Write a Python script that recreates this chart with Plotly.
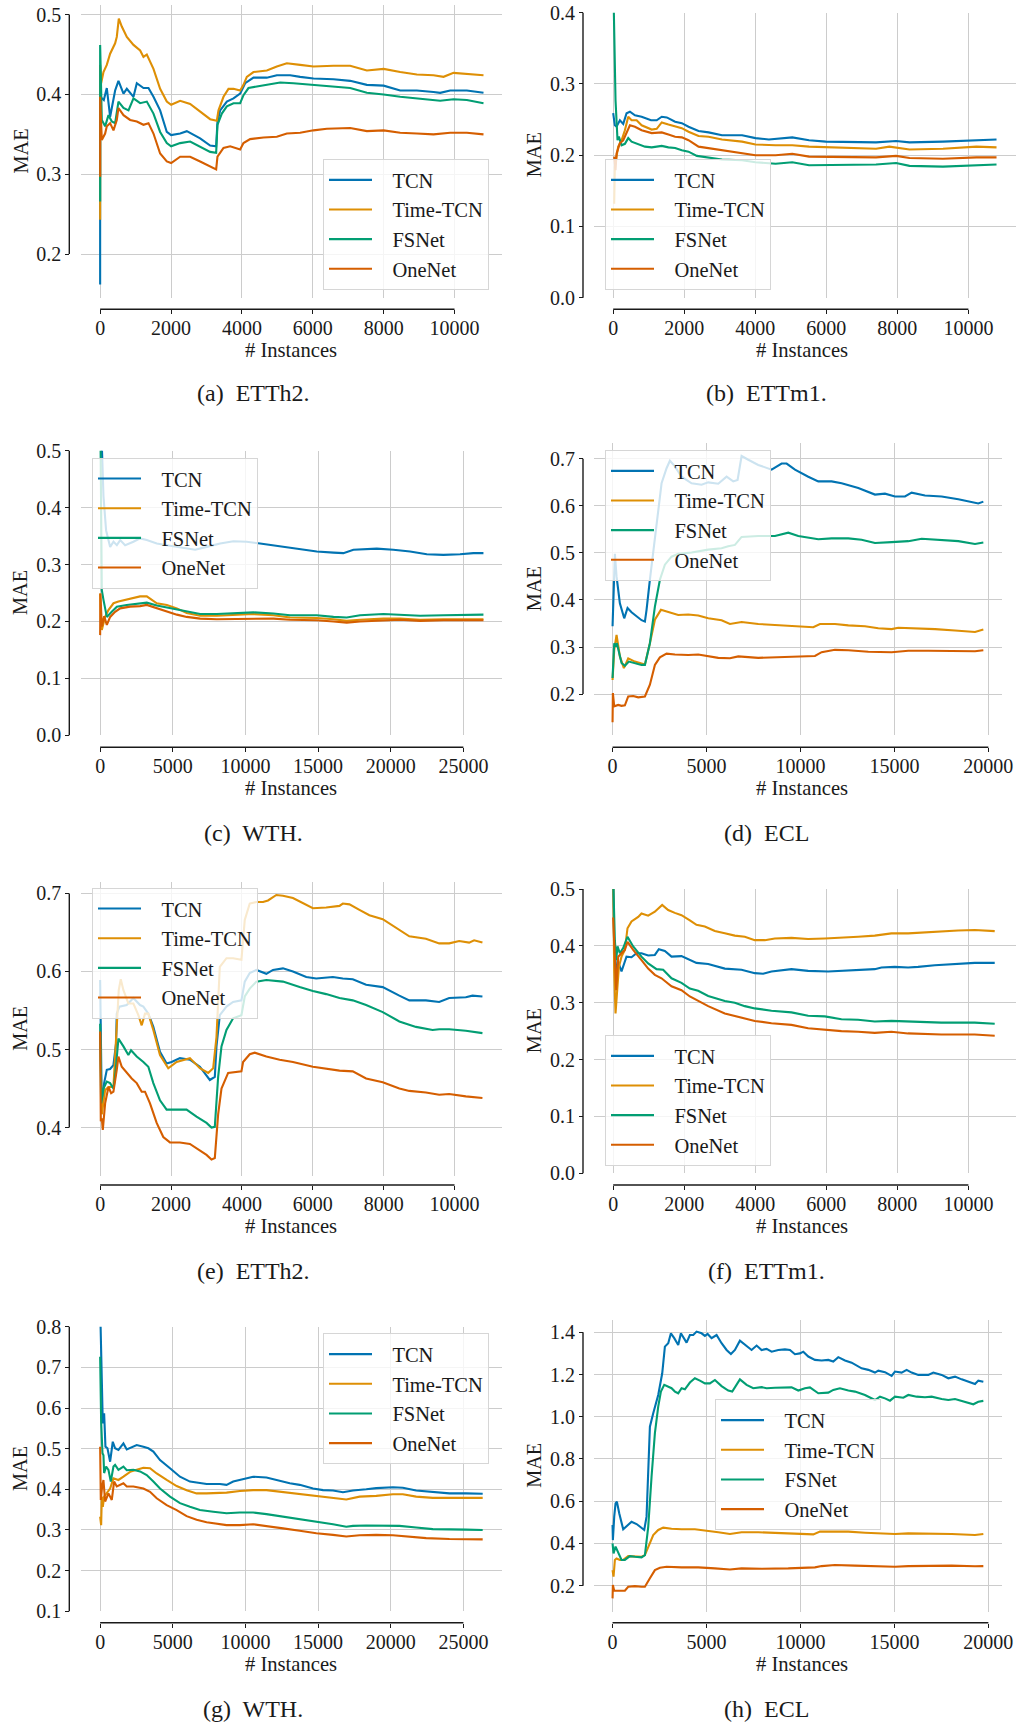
import plotly.graph_objects as go

W, H = 1018, 1722
FONT = "Liberation Serif"
TEXT = "#1a1a1a"
GRID = "#cccccc"

MODELS = ["TCN", "Time-TCN", "FSNet", "OneNet"]
COLORS = {"TCN": "#0173b2", "Time-TCN": "#de8f05", "FSNet": "#029e73", "OneNet": "#d55e00"}

# ---------------- (a) ETTh2 ----------------
A_TCN_X = [0, 0, 103, 188, 282, 423, 517, 659, 753, 941, 1035, 1223, 1364, 1505, 1693, 1881, 2004, 2258, 2446, 2634, 2822, 3104, 3274, 3311, 3387, 3575, 3763, 3951, 4092, 4327, 4704, 4986, 5362, 5644, 6021, 6585, 7056, 7526, 8000, 8467, 8937, 9407, 9595, 9878, 10348, 10818]
A_TCN_Y = [0.162, 0.397, 0.393, 0.408, 0.372, 0.405, 0.417, 0.401, 0.407, 0.397, 0.414, 0.408, 0.408, 0.397, 0.380, 0.353, 0.349, 0.351, 0.354, 0.349, 0.345, 0.336, 0.335, 0.366, 0.380, 0.391, 0.395, 0.401, 0.414, 0.421, 0.421, 0.424, 0.424, 0.422, 0.420, 0.419, 0.417, 0.412, 0.411, 0.405, 0.405, 0.403, 0.402, 0.405, 0.405, 0.402]
A_TIME_X = [0, 0, 28, 94, 188, 282, 423, 470, 527, 611, 753, 941, 1129, 1223, 1317, 1505, 1693, 1881, 2004, 2258, 2540, 2822, 3104, 3293, 3340, 3481, 3622, 3763, 3951, 4045, 4139, 4327, 4704, 4986, 5268, 5644, 6021, 6585, 7056, 7526, 8000, 8467, 8937, 9407, 9690, 9972, 10348, 10818]
A_TIME_Y = [0.243, 0.437, 0.414, 0.428, 0.437, 0.451, 0.464, 0.472, 0.495, 0.485, 0.472, 0.462, 0.455, 0.447, 0.450, 0.432, 0.407, 0.391, 0.387, 0.392, 0.388, 0.378, 0.369, 0.367, 0.380, 0.397, 0.407, 0.407, 0.405, 0.412, 0.422, 0.428, 0.430, 0.435, 0.439, 0.437, 0.435, 0.436, 0.436, 0.430, 0.432, 0.428, 0.425, 0.424, 0.422, 0.427, 0.426, 0.424]
A_FS_X = [0, 0, 47, 141, 235, 329, 423, 517, 659, 800, 941, 1129, 1317, 1505, 1693, 1881, 2004, 2258, 2540, 2822, 3104, 3274, 3311, 3434, 3575, 3763, 3951, 4045, 4186, 4421, 4704, 5080, 5456, 6021, 6585, 7056, 7526, 8000, 8467, 8937, 9407, 9595, 9972, 10348, 10818]
A_FS_Y = [0.266, 0.462, 0.368, 0.360, 0.374, 0.366, 0.364, 0.391, 0.383, 0.380, 0.395, 0.389, 0.391, 0.376, 0.353, 0.339, 0.335, 0.339, 0.341, 0.335, 0.328, 0.327, 0.362, 0.376, 0.385, 0.389, 0.389, 0.399, 0.408, 0.410, 0.412, 0.415, 0.414, 0.412, 0.410, 0.408, 0.402, 0.400, 0.397, 0.395, 0.393, 0.392, 0.394, 0.393, 0.389]
A_ONE_X = [0, 0, 47, 141, 188, 282, 376, 470, 517, 659, 847, 1035, 1223, 1364, 1505, 1693, 1881, 2004, 2258, 2540, 2822, 3104, 3274, 3311, 3481, 3669, 3951, 4045, 4233, 4610, 4986, 5268, 5644, 6021, 6397, 7056, 7526, 8000, 8467, 8937, 9407, 9878, 10348, 10818]
A_ONE_Y = [0.297, 0.397, 0.343, 0.351, 0.360, 0.364, 0.355, 0.368, 0.383, 0.374, 0.368, 0.366, 0.362, 0.364, 0.351, 0.326, 0.316, 0.314, 0.322, 0.322, 0.316, 0.310, 0.306, 0.322, 0.333, 0.335, 0.331, 0.339, 0.344, 0.346, 0.347, 0.351, 0.352, 0.355, 0.357, 0.358, 0.354, 0.355, 0.352, 0.351, 0.350, 0.352, 0.352, 0.350]

# ---------------- (b) ETTm1 ----------------
B_TCN_X = [0, 47, 94, 189, 283, 377, 471, 613, 801, 1065, 1225, 1367, 1508, 1743, 1932, 2121, 2403, 2686, 3063, 3629, 4006, 4383, 5042, 5514, 5985, 6456, 7399, 7965, 8342, 9284, 10226, 10792]
B_TCN_Y = [0.259, 0.242, 0.240, 0.249, 0.244, 0.259, 0.261, 0.256, 0.254, 0.249, 0.249, 0.254, 0.253, 0.247, 0.245, 0.240, 0.234, 0.232, 0.228, 0.228, 0.224, 0.222, 0.225, 0.221, 0.219, 0.219, 0.218, 0.220, 0.218, 0.219, 0.221, 0.222]
B_TIME_X = [28, 47, 141, 236, 330, 424, 518, 660, 801, 1084, 1225, 1367, 1555, 1743, 1932, 2121, 2403, 2686, 3063, 3629, 4006, 4572, 5042, 5514, 6456, 7399, 7776, 8342, 9284, 10226, 10792]
B_TIME_Y = [0.132, 0.184, 0.212, 0.221, 0.235, 0.254, 0.249, 0.249, 0.242, 0.236, 0.237, 0.246, 0.243, 0.240, 0.238, 0.233, 0.227, 0.226, 0.222, 0.219, 0.215, 0.214, 0.214, 0.212, 0.210, 0.209, 0.212, 0.208, 0.209, 0.212, 0.211]
B_FS_X = [0, 19, 47, 66, 94, 122, 160, 236, 330, 424, 518, 707, 895, 1084, 1367, 1555, 1743, 1932, 2121, 2356, 2686, 3063, 3629, 4006, 4572, 5042, 5514, 6456, 7399, 7965, 8342, 9284, 10226, 10792]
B_FS_Y = [0.45, 0.400, 0.305, 0.277, 0.249, 0.221, 0.226, 0.214, 0.216, 0.224, 0.219, 0.216, 0.212, 0.211, 0.213, 0.211, 0.210, 0.207, 0.205, 0.199, 0.197, 0.194, 0.193, 0.190, 0.188, 0.190, 0.186, 0.187, 0.187, 0.189, 0.185, 0.184, 0.186, 0.187]
B_ONE_X = [28, 66, 94, 189, 283, 377, 471, 613, 801, 1084, 1367, 1555, 1743, 1932, 2121, 2403, 2686, 3063, 3440, 4006, 4572, 5042, 5514, 6456, 7399, 7965, 8342, 9284, 10226, 10792]
B_ONE_Y = [0.198, 0.179, 0.202, 0.217, 0.221, 0.231, 0.242, 0.240, 0.235, 0.231, 0.232, 0.229, 0.226, 0.225, 0.221, 0.212, 0.210, 0.207, 0.204, 0.200, 0.200, 0.202, 0.198, 0.198, 0.197, 0.199, 0.196, 0.195, 0.197, 0.197]

# ---------------- (c) WTH ----------------
C_TCN_X = [0, 110, 230, 410, 570, 690, 920, 1150, 1380, 1720, 2290, 2750, 3210, 3900, 4590, 5280, 5960, 6540, 7340, 8260, 9170, 10090, 11010, 11930, 12840, 13760, 14910, 16060, 16740, 17430, 18350, 19040, 20180, 21330, 22480, 23620, 24770, 25690, 26380]
C_TCN_Y = [0.60, 0.52, 0.42, 0.360, 0.343, 0.331, 0.340, 0.334, 0.343, 0.334, 0.340, 0.346, 0.343, 0.337, 0.334, 0.331, 0.328, 0.326, 0.331, 0.337, 0.341, 0.340, 0.337, 0.334, 0.330, 0.327, 0.323, 0.321, 0.320, 0.326, 0.327, 0.328, 0.326, 0.323, 0.318, 0.317, 0.318, 0.320, 0.320]
C_TIME_X = [0, 46, 115, 340, 570, 920, 1260, 1830, 2750, 3210, 3900, 4590, 5280, 5960, 6880, 8030, 9170, 10550, 11930, 13070, 14910, 16060, 16970, 17890, 19500, 20640, 22020, 23620, 26380]
C_TIME_Y = [0.249, 0.200, 0.185, 0.208, 0.220, 0.232, 0.235, 0.238, 0.244, 0.244, 0.232, 0.229, 0.223, 0.215, 0.210, 0.210, 0.211, 0.213, 0.211, 0.207, 0.206, 0.204, 0.201, 0.203, 0.205, 0.205, 0.203, 0.204, 0.204]
C_FS_X = [0, 70, 115, 230, 460, 800, 1150, 1830, 2750, 3210, 3900, 4820, 5960, 6880, 8030, 9170, 10550, 11930, 13070, 14910, 16060, 16970, 17890, 19500, 20640, 22020, 23620, 26380]
C_FS_Y = [0.60, 0.302, 0.255, 0.238, 0.208, 0.217, 0.226, 0.229, 0.232, 0.233, 0.228, 0.223, 0.217, 0.213, 0.213, 0.214, 0.216, 0.214, 0.211, 0.211, 0.208, 0.207, 0.211, 0.213, 0.212, 0.210, 0.211, 0.212]
C_ONE_X = [0, 20, 115, 280, 460, 690, 1030, 1380, 2060, 2750, 3210, 3900, 4590, 5280, 5960, 6880, 8030, 9170, 10550, 11930, 13070, 14910, 16060, 16970, 17890, 19500, 20640, 22020, 23620, 26380]
C_ONE_Y = [0.176, 0.249, 0.191, 0.209, 0.194, 0.208, 0.217, 0.223, 0.226, 0.227, 0.229, 0.223, 0.217, 0.212, 0.208, 0.205, 0.204, 0.204, 0.205, 0.205, 0.203, 0.202, 0.200, 0.198, 0.200, 0.202, 0.203, 0.201, 0.202, 0.202]

# ---------------- (d) ECL ----------------
D_TCN_X = [0, 35, 89, 124, 213, 390, 621, 798, 1011, 1278, 1544, 1722, 1810, 1988, 2254, 2431, 2609, 2875, 3052, 3319, 3674, 4206, 4738, 5093, 5626, 6069, 6424, 6655, 6868, 7223, 7755, 8465, 8998, 9264, 9708, 10417, 10950, 11659, 12192, 13079, 13966, 14498, 15031, 15563, 15918, 16628, 17515, 18403, 19290, 19467, 19734]
D_TCN_Y = [0.344, 0.393, 0.492, 0.498, 0.450, 0.393, 0.361, 0.383, 0.374, 0.365, 0.357, 0.354, 0.379, 0.443, 0.535, 0.592, 0.648, 0.680, 0.696, 0.684, 0.662, 0.648, 0.645, 0.650, 0.647, 0.662, 0.652, 0.655, 0.706, 0.698, 0.687, 0.677, 0.690, 0.690, 0.677, 0.662, 0.652, 0.652, 0.648, 0.638, 0.624, 0.626, 0.620, 0.620, 0.628, 0.622, 0.620, 0.614, 0.606, 0.605, 0.609]
D_TIME_X = [0, 89, 213, 390, 603, 834, 1189, 1544, 1722, 1988, 2254, 2573, 2964, 3496, 4029, 4561, 5093, 5803, 6247, 6868, 7755, 8643, 9530, 10417, 10684, 11039, 11837, 12547, 13434, 14143, 14853, 15208, 16096, 17170, 18226, 19290, 19734]
D_TIME_Y = [0.230, 0.294, 0.326, 0.280, 0.255, 0.276, 0.269, 0.264, 0.263, 0.308, 0.358, 0.379, 0.374, 0.368, 0.369, 0.367, 0.361, 0.357, 0.349, 0.353, 0.349, 0.347, 0.346, 0.344, 0.342, 0.349, 0.349, 0.346, 0.344, 0.340, 0.338, 0.341, 0.340, 0.338, 0.335, 0.332, 0.337]
D_FS_X = [0, 89, 160, 230, 479, 656, 869, 1189, 1544, 1722, 1988, 2254, 2520, 2786, 3141, 3496, 4206, 5093, 5803, 6158, 6513, 6868, 7755, 8643, 9353, 9885, 10417, 10950, 11659, 12547, 13257, 13966, 14853, 15741, 16450, 17515, 18403, 19290, 19734]
D_FS_Y = [0.234, 0.308, 0.301, 0.308, 0.266, 0.260, 0.269, 0.266, 0.262, 0.262, 0.308, 0.386, 0.443, 0.475, 0.492, 0.498, 0.501, 0.507, 0.510, 0.514, 0.517, 0.534, 0.536, 0.536, 0.543, 0.536, 0.533, 0.529, 0.531, 0.531, 0.528, 0.521, 0.523, 0.525, 0.530, 0.528, 0.525, 0.519, 0.522]
D_ONE_X = [0, 18, 89, 302, 479, 656, 834, 1100, 1367, 1722, 1988, 2254, 2520, 2875, 3319, 4029, 4561, 5093, 5626, 6247, 6690, 7755, 8643, 9530, 10417, 10772, 11127, 11837, 12547, 13612, 14853, 15741, 16806, 18048, 19290, 19734]
D_ONE_Y = [0.140, 0.202, 0.174, 0.177, 0.175, 0.176, 0.195, 0.196, 0.193, 0.195, 0.220, 0.262, 0.278, 0.286, 0.284, 0.283, 0.284, 0.280, 0.277, 0.276, 0.280, 0.277, 0.278, 0.279, 0.281, 0.281, 0.289, 0.294, 0.293, 0.290, 0.289, 0.292, 0.292, 0.292, 0.291, 0.293]

# ---------------- (e) ETTh2 ----------------
E_TCN_X = [0, 47, 113, 188, 281, 375, 450, 469, 544, 750, 938, 1126, 1220, 1360, 1501, 1689, 1876, 2017, 2251, 2533, 2814, 3002, 3096, 3236, 3283, 3377, 3565, 3752, 3987, 4081, 4222, 4409, 4690, 4878, 5159, 5441, 5816, 6097, 6567, 6848, 7129, 7505, 7974, 8443, 8724, 9193, 9568, 9850, 10319, 10507, 10788]
E_TCN_Y = [0.589, 0.425, 0.457, 0.474, 0.475, 0.480, 0.508, 0.546, 0.555, 0.557, 0.566, 0.557, 0.555, 0.546, 0.529, 0.497, 0.482, 0.484, 0.489, 0.487, 0.478, 0.467, 0.461, 0.465, 0.504, 0.544, 0.555, 0.561, 0.563, 0.587, 0.598, 0.602, 0.597, 0.602, 0.604, 0.600, 0.593, 0.591, 0.593, 0.591, 0.590, 0.583, 0.580, 0.569, 0.563, 0.563, 0.561, 0.566, 0.567, 0.569, 0.568]
E_TIME_X = [0, 47, 141, 235, 375, 469, 525, 582, 657, 797, 938, 1079, 1173, 1266, 1360, 1501, 1689, 1923, 2158, 2533, 2814, 3049, 3189, 3283, 3377, 3565, 3752, 3987, 4081, 4222, 4409, 4597, 4737, 4972, 5159, 5441, 5722, 6004, 6379, 6754, 6848, 7036, 7317, 7598, 7974, 8443, 8724, 9193, 9568, 9850, 10131, 10413, 10553, 10788]
E_TIME_Y = [0.520, 0.417, 0.448, 0.452, 0.452, 0.525, 0.576, 0.590, 0.576, 0.559, 0.559, 0.544, 0.531, 0.546, 0.546, 0.525, 0.493, 0.476, 0.484, 0.489, 0.476, 0.470, 0.476, 0.516, 0.606, 0.617, 0.617, 0.615, 0.666, 0.687, 0.689, 0.689, 0.691, 0.698, 0.697, 0.694, 0.687, 0.681, 0.682, 0.684, 0.687, 0.686, 0.679, 0.672, 0.667, 0.653, 0.645, 0.642, 0.636, 0.636, 0.639, 0.637, 0.640, 0.637]
E_FS_X = [0, 28, 94, 188, 281, 375, 422, 516, 657, 797, 872, 1032, 1220, 1360, 1501, 1689, 1876, 2158, 2439, 2720, 3002, 3142, 3236, 3330, 3424, 3565, 3752, 3987, 4081, 4222, 4409, 4690, 5159, 5629, 6004, 6379, 6754, 7129, 7505, 7974, 8443, 8912, 9381, 9568, 9850, 10319, 10788]
E_FS_Y = [0.533, 0.431, 0.450, 0.459, 0.457, 0.450, 0.465, 0.514, 0.504, 0.493, 0.499, 0.491, 0.484, 0.478, 0.457, 0.435, 0.423, 0.423, 0.423, 0.414, 0.406, 0.400, 0.401, 0.465, 0.504, 0.525, 0.540, 0.544, 0.568, 0.578, 0.587, 0.589, 0.587, 0.580, 0.575, 0.571, 0.566, 0.563, 0.557, 0.548, 0.536, 0.529, 0.525, 0.526, 0.526, 0.524, 0.521]
E_ONE_X = [0, 19, 47, 75, 141, 235, 310, 375, 469, 516, 610, 750, 891, 1032, 1173, 1266, 1407, 1595, 1782, 1970, 2251, 2533, 2814, 3002, 3142, 3236, 3330, 3424, 3612, 3752, 3987, 4034, 4222, 4362, 4690, 5066, 5441, 6004, 6473, 6754, 7129, 7505, 7974, 8443, 8724, 9193, 9568, 9850, 10319, 10788]
E_ONE_Y = [0.523, 0.408, 0.412, 0.397, 0.431, 0.452, 0.444, 0.446, 0.474, 0.491, 0.478, 0.470, 0.463, 0.457, 0.446, 0.446, 0.431, 0.406, 0.388, 0.381, 0.381, 0.379, 0.371, 0.365, 0.359, 0.361, 0.417, 0.450, 0.470, 0.471, 0.472, 0.484, 0.494, 0.496, 0.491, 0.487, 0.484, 0.478, 0.475, 0.473, 0.472, 0.463, 0.458, 0.450, 0.447, 0.445, 0.442, 0.443, 0.440, 0.438]

# ---------------- (f) ETTm1 ----------------
F_TCN_X = [0, 28, 66, 122, 188, 235, 310, 375, 516, 657, 797, 985, 1173, 1285, 1454, 1642, 1923, 2158, 2345, 2674, 3142, 3612, 3987, 4221, 4456, 5019, 5488, 6051, 6426, 6895, 7364, 7552, 7927, 8302, 8584, 9053, 9522, 10178, 10741]
F_TCN_Y = [0.520, 0.387, 0.340, 0.375, 0.363, 0.355, 0.369, 0.381, 0.380, 0.387, 0.387, 0.383, 0.384, 0.394, 0.391, 0.381, 0.382, 0.375, 0.370, 0.368, 0.360, 0.358, 0.352, 0.351, 0.355, 0.359, 0.356, 0.355, 0.356, 0.358, 0.359, 0.362, 0.363, 0.362, 0.363, 0.366, 0.368, 0.370, 0.370]
F_TIME_X = [0, 28, 66, 103, 160, 235, 328, 403, 516, 704, 797, 985, 1173, 1379, 1548, 1735, 1923, 2158, 2345, 2580, 2861, 3142, 3424, 3705, 3987, 4268, 4550, 5019, 5488, 5957, 6426, 6895, 7364, 7833, 8302, 8771, 9240, 9709, 10178, 10741]
F_TIME_Y = [0.520, 0.358, 0.281, 0.322, 0.363, 0.381, 0.393, 0.431, 0.443, 0.451, 0.457, 0.453, 0.460, 0.472, 0.463, 0.458, 0.454, 0.445, 0.437, 0.434, 0.426, 0.422, 0.418, 0.416, 0.410, 0.410, 0.413, 0.414, 0.412, 0.413, 0.414, 0.416, 0.418, 0.422, 0.422, 0.424, 0.425, 0.427, 0.428, 0.426]
F_FS_X = [0, 47, 85, 122, 188, 281, 403, 563, 797, 985, 1220, 1407, 1642, 1923, 2158, 2392, 2674, 3142, 3424, 3705, 3987, 4456, 5019, 5488, 5957, 6426, 6895, 7364, 7833, 8302, 8771, 9240, 10178, 10741]
F_FS_Y = [0.520, 0.410, 0.375, 0.399, 0.387, 0.396, 0.416, 0.399, 0.381, 0.369, 0.359, 0.358, 0.343, 0.335, 0.325, 0.321, 0.312, 0.303, 0.300, 0.294, 0.290, 0.286, 0.283, 0.277, 0.276, 0.271, 0.270, 0.267, 0.268, 0.267, 0.266, 0.265, 0.265, 0.263]
F_ONE_X = [0, 47, 85, 141, 235, 328, 403, 563, 797, 985, 1173, 1360, 1642, 1923, 2158, 2392, 2674, 3142, 3612, 3987, 4456, 5019, 5488, 5957, 6426, 6895, 7364, 7833, 8302, 9240, 10178, 10741]
F_ONE_Y = [0.450, 0.363, 0.322, 0.381, 0.387, 0.393, 0.407, 0.393, 0.375, 0.360, 0.349, 0.343, 0.329, 0.322, 0.311, 0.303, 0.294, 0.281, 0.274, 0.268, 0.264, 0.261, 0.255, 0.252, 0.250, 0.249, 0.247, 0.249, 0.246, 0.244, 0.244, 0.242]

# ---------------- (g) WTH ----------------
G_TCN_X = [0, 115, 183, 275, 366, 504, 687, 870, 1030, 1259, 1603, 1832, 2289, 2518, 2976, 3320, 3663, 4121, 4808, 5495, 6181, 6639, 7326, 8242, 8700, 9158, 9844, 10531, 11447, 12134, 13050, 13736, 14652, 15339, 16026, 16712, 17399, 18315, 19002, 20147, 20833, 21749, 22894, 24038, 25183, 26328]
G_TCN_Y = [0.850, 0.620, 0.562, 0.587, 0.505, 0.501, 0.468, 0.517, 0.501, 0.497, 0.513, 0.498, 0.505, 0.509, 0.505, 0.501, 0.493, 0.472, 0.452, 0.431, 0.419, 0.416, 0.413, 0.413, 0.411, 0.419, 0.425, 0.431, 0.429, 0.423, 0.415, 0.411, 0.402, 0.398, 0.397, 0.393, 0.397, 0.400, 0.403, 0.405, 0.404, 0.397, 0.393, 0.390, 0.390, 0.389]
G_TIME_X = [0, 69, 115, 183, 275, 458, 687, 916, 1259, 1603, 2060, 2518, 2976, 3434, 3892, 4579, 5266, 5952, 6639, 7326, 8700, 9615, 10531, 11447, 12363, 13278, 14194, 15110, 16026, 16941, 17857, 19002, 20147, 20833, 21749, 22894, 25183, 26328]
G_TIME_Y = [0.333, 0.312, 0.382, 0.357, 0.382, 0.390, 0.402, 0.427, 0.423, 0.431, 0.443, 0.448, 0.453, 0.452, 0.439, 0.423, 0.408, 0.398, 0.390, 0.390, 0.392, 0.396, 0.398, 0.398, 0.394, 0.390, 0.386, 0.382, 0.378, 0.375, 0.382, 0.384, 0.388, 0.388, 0.382, 0.379, 0.379, 0.379]
G_FS_X = [0, 69, 160, 229, 275, 412, 572, 733, 916, 1030, 1259, 1603, 1832, 2289, 2747, 3205, 3663, 4121, 4808, 5495, 6181, 6868, 7784, 8700, 9615, 10531, 11447, 12591, 13736, 14881, 16026, 16941, 17399, 18315, 19460, 20604, 21749, 22894, 25183, 26328]
G_FS_Y = [0.726, 0.566, 0.489, 0.484, 0.440, 0.456, 0.448, 0.419, 0.456, 0.460, 0.448, 0.456, 0.447, 0.448, 0.444, 0.435, 0.419, 0.402, 0.382, 0.366, 0.357, 0.349, 0.345, 0.341, 0.343, 0.343, 0.339, 0.333, 0.326, 0.320, 0.314, 0.308, 0.310, 0.311, 0.311, 0.310, 0.306, 0.302, 0.301, 0.300]
G_ONE_X = [0, 46, 137, 229, 343, 572, 801, 962, 1145, 1603, 1832, 2289, 2976, 3434, 3892, 4579, 5266, 5952, 6639, 7326, 8700, 9615, 10531, 11447, 12591, 13736, 14881, 16026, 16941, 17857, 19002, 20147, 21291, 22436, 24038, 26328]
G_ONE_Y = [0.505, 0.374, 0.407, 0.423, 0.370, 0.390, 0.374, 0.419, 0.407, 0.415, 0.407, 0.407, 0.402, 0.394, 0.378, 0.361, 0.349, 0.334, 0.325, 0.319, 0.312, 0.312, 0.314, 0.310, 0.304, 0.298, 0.292, 0.288, 0.284, 0.287, 0.288, 0.287, 0.284, 0.280, 0.278, 0.277]

# ---------------- (h) ECL ----------------
H_TCN_X = [0, 18, 89, 160, 231, 355, 568, 834, 1011, 1278, 1544, 1686, 1810, 1988, 2165, 2431, 2644, 2786, 2964, 3106, 3283, 3496, 3638, 3762, 3940, 4117, 4295, 4472, 4738, 4916, 5058, 5271, 5537, 5803, 6069, 6300, 6513, 6779, 7046, 7400, 7667, 7933, 8199, 8465, 8820, 9175, 9441, 9707, 9973, 10151, 10417, 10772, 11127, 11482, 11748, 12014, 12369, 12724, 13256, 13611, 13966, 14144, 14499, 14853, 15031, 15386, 15652, 15918, 16273, 16806, 17072, 17516, 17870, 18226, 18580, 19113, 19290, 19468, 19734]
H_TCN_Y = [0.487, 0.416, 0.527, 0.590, 0.598, 0.543, 0.467, 0.487, 0.503, 0.492, 0.472, 0.464, 0.527, 0.953, 1.016, 1.103, 1.206, 1.332, 1.348, 1.395, 1.372, 1.340, 1.395, 1.379, 1.351, 1.387, 1.387, 1.403, 1.395, 1.383, 1.392, 1.372, 1.387, 1.348, 1.316, 1.297, 1.316, 1.360, 1.340, 1.316, 1.337, 1.316, 1.321, 1.308, 1.316, 1.319, 1.316, 1.296, 1.300, 1.308, 1.285, 1.269, 1.266, 1.269, 1.261, 1.282, 1.266, 1.256, 1.229, 1.222, 1.209, 1.218, 1.211, 1.193, 1.214, 1.209, 1.222, 1.209, 1.198, 1.198, 1.209, 1.198, 1.182, 1.190, 1.177, 1.162, 1.155, 1.171, 1.166]
H_TIME_X = [0, 53, 124, 213, 390, 568, 834, 1189, 1544, 1722, 1899, 2165, 2431, 2697, 3141, 3674, 4383, 5093, 5626, 6247, 6868, 7755, 8643, 9707, 10684, 11039, 11837, 12547, 13434, 14321, 15031, 15741, 16806, 18048, 19290, 19734]
H_TIME_Y = [0.274, 0.243, 0.322, 0.329, 0.322, 0.322, 0.340, 0.337, 0.337, 0.345, 0.385, 0.440, 0.464, 0.475, 0.470, 0.467, 0.467, 0.460, 0.453, 0.445, 0.453, 0.453, 0.451, 0.448, 0.443, 0.456, 0.457, 0.456, 0.451, 0.446, 0.445, 0.448, 0.448, 0.445, 0.440, 0.445]
H_FS_X = [0, 53, 160, 302, 479, 656, 923, 1189, 1544, 1722, 1899, 2076, 2254, 2431, 2573, 2751, 2964, 3141, 3319, 3496, 3674, 3851, 4117, 4383, 4649, 4916, 5182, 5448, 5803, 6158, 6371, 6513, 6779, 7134, 7488, 7932, 8199, 8643, 9175, 9530, 9885, 10240, 10506, 10950, 11482, 11748, 12103, 12547, 12902, 13434, 13966, 14233, 14499, 14765, 15031, 15475, 15741, 16185, 16628, 16983, 17516, 17870, 18226, 18758, 19201, 19468, 19734]
H_FS_Y = [0.400, 0.353, 0.385, 0.353, 0.322, 0.322, 0.340, 0.337, 0.334, 0.345, 0.479, 0.716, 0.922, 1.048, 1.119, 1.151, 1.143, 1.135, 1.119, 1.111, 1.135, 1.130, 1.162, 1.182, 1.171, 1.158, 1.158, 1.174, 1.145, 1.124, 1.119, 1.140, 1.177, 1.151, 1.135, 1.140, 1.135, 1.137, 1.139, 1.139, 1.124, 1.135, 1.139, 1.111, 1.114, 1.127, 1.135, 1.124, 1.119, 1.103, 1.079, 1.095, 1.087, 1.076, 1.095, 1.090, 1.103, 1.095, 1.092, 1.095, 1.084, 1.079, 1.084, 1.072, 1.059, 1.071, 1.075]
H_ONE_X = [0, 18, 89, 302, 479, 656, 834, 1189, 1544, 1722, 1988, 2254, 2520, 2875, 3674, 4561, 5448, 6247, 6868, 7933, 9353, 10417, 10772, 11127, 11837, 12902, 13966, 15031, 15741, 16806, 18048, 19290, 19734]
H_ONE_Y = [0.140, 0.203, 0.176, 0.176, 0.175, 0.176, 0.195, 0.198, 0.195, 0.195, 0.235, 0.274, 0.285, 0.290, 0.287, 0.287, 0.282, 0.277, 0.282, 0.280, 0.282, 0.285, 0.287, 0.293, 0.298, 0.295, 0.292, 0.290, 0.293, 0.295, 0.295, 0.292, 0.293]

# Tick values per panel
TICKS_X_10K = [0, 2000, 4000, 6000, 8000, 10000]
TICKS_X_25K = [0, 5000, 10000, 15000, 20000, 25000]
TICKS_X_20K = [0, 5000, 10000, 15000, 20000]

# Sub-figure labels (dataset names)
CAPTIONS = [("(a)", "ETTh2."), ("(b)", "ETTm1."), ("(c)", "WTH."), ("(d)", "ECL"),
            ("(e)", "ETTh2."), ("(f)", "ETTm1."), ("(g)", "WTH."), ("(h)", "ECL")]

# Panel geometry in pixels: plot box (left, right, top, bottom), offset spines, legend corner
PANELS = [
    dict(data=[(A_TCN_X, A_TCN_Y), (A_TIME_X, A_TIME_Y), (A_FS_X, A_FS_Y), (A_ONE_X, A_ONE_Y)],
         xr=[-540, 11340], yr=[0.145, 0.512], xt=TICKS_X_10K, yt=[0.2, 0.3, 0.4, 0.5],
         box=(81, 502, 5, 298), sx=69.3, sy=309.3, leg=(323, 159), capy=393),
    dict(data=[(B_TCN_X, B_TCN_Y), (B_TIME_X, B_TIME_Y), (B_FS_X, B_FS_Y), (B_ONE_X, B_ONE_Y)],
         xr=[-540, 11340], yr=[0.0, 0.4], xt=TICKS_X_10K, yt=[0.0, 0.1, 0.2, 0.3, 0.4],
         box=(594, 1016, 12.7, 297.7), sx=583, sy=309.3, leg=(605, 159), capy=393),
    dict(data=[(C_TCN_X, C_TCN_Y), (C_TIME_X, C_TIME_Y), (C_FS_X, C_FS_Y), (C_ONE_X, C_ONE_Y)],
         xr=[-1317, 27657], yr=[0.0, 0.5], xt=TICKS_X_25K, yt=[0.0, 0.1, 0.2, 0.3, 0.4, 0.5],
         box=(81, 502, 450.7, 735.3), sx=69.3, sy=747.3, leg=(92, 457.7), capy=833),
    dict(data=[(D_TCN_X, D_TCN_Y), (D_TIME_X, D_TIME_Y), (D_FS_X, D_FS_Y), (D_ONE_X, D_ONE_Y)],
         xr=[-987, 20727], yr=[0.113, 0.733], xt=TICKS_X_20K, yt=[0.2, 0.3, 0.4, 0.5, 0.6, 0.7],
         box=(594, 1002, 443.3, 735), sx=583, sy=747.3, leg=(605, 450), capy=833),
    dict(data=[(E_TCN_X, E_TCN_Y), (E_TIME_X, E_TIME_Y), (E_FS_X, E_FS_Y), (E_ONE_X, E_ONE_Y)],
         xr=[-540, 11340], yr=[0.338, 0.715], xt=TICKS_X_10K, yt=[0.4, 0.5, 0.6, 0.7],
         box=(81, 502, 881.7, 1176), sx=69.3, sy=1185, leg=(92, 887.7), capy=1271),
    dict(data=[(F_TCN_X, F_TCN_Y), (F_TIME_X, F_TIME_Y), (F_FS_X, F_FS_Y), (F_ONE_X, F_ONE_Y)],
         xr=[-540, 11340], yr=[0.0, 0.5], xt=TICKS_X_10K, yt=[0.0, 0.1, 0.2, 0.3, 0.4, 0.5],
         box=(594, 1016, 889, 1173.3), sx=583, sy=1185, leg=(605, 1035), capy=1271),
    dict(data=[(G_TCN_X, G_TCN_Y), (G_TIME_X, G_TIME_Y), (G_FS_X, G_FS_Y), (G_ONE_X, G_ONE_Y)],
         xr=[-1317, 27657], yr=[0.1, 0.8], xt=TICKS_X_25K, yt=[0.1, 0.2, 0.3, 0.4, 0.5, 0.6, 0.7, 0.8],
         box=(81, 502, 1326.7, 1611.3), sx=69.3, sy=1622.7, leg=(323, 1333.3), capy=1709),
    dict(data=[(H_TCN_X, H_TCN_Y), (H_TIME_X, H_TIME_Y), (H_FS_X, H_FS_Y), (H_ONE_X, H_ONE_Y)],
         xr=[-987, 20727], yr=[0.077, 1.458], xt=TICKS_X_20K, yt=[0.2, 0.4, 0.6, 0.8, 1.0, 1.2, 1.4],
         box=(594, 1002, 1320, 1611.7), sx=583, sy=1622.7, leg=(715, 1399.3), capy=1709),
]

NBSP = "\u00a0"

fig = go.Figure()
shapes, annotations = [], []
layout = dict(
    width=W, height=H, margin=dict(l=0, r=0, t=0, b=0, autoexpand=False),
    paper_bgcolor="white", plot_bgcolor="white",
    font=dict(family=FONT, size=20, color=TEXT),
    showlegend=True,
)


def px_x(v):
    return v / W


def px_y(v):
    return 1 - v / H


for i, (p, (tag, dname)) in enumerate(zip(PANELS, CAPTIONS), start=1):
    sfx = "" if i == 1 else str(i)
    xa, ya = "x" + sfx, "y" + sfx
    leg = "legend" + sfx
    L, R, T, B = p["box"]

    for name, (xs, ys) in zip(MODELS, p["data"]):
        fig.add_trace(go.Scatter(
            x=xs, y=ys, mode="lines", name=NBSP * 3 + name,
            line=dict(color=COLORS[name], width=2.1),
            xaxis=xa, yaxis=ya, legend=leg, showlegend=True,
        ))

    layout["xaxis" + sfx] = dict(
        domain=[px_x(L), px_x(R)], range=p["xr"], anchor="free", position=px_y(p["sy"]),
        tickvals=p["xt"], tickformat="d", ticks="outside", ticklen=4, tickwidth=1.3,
        tickcolor=TEXT, showline=False, zeroline=False, automargin=False,
        ticklabelstandoff=-3,
        showgrid=True, gridcolor=GRID, gridwidth=1.2,
        tickfont=dict(family=FONT, size=20, color=TEXT),
    )
    layout["yaxis" + sfx] = dict(
        domain=[px_y(B), px_y(T)], range=p["yr"], anchor="free", position=px_x(p["sx"]),
        tickvals=p["yt"], tickformat=".1f", ticks="outside", ticklen=4, tickwidth=1.3,
        tickcolor=TEXT, showline=False, zeroline=False, automargin=False,
        showgrid=True, gridcolor=GRID, gridwidth=1.2,
        tickfont=dict(family=FONT, size=20, color=TEXT),
    )

    # trimmed, offset spines (span first to last tick)
    x0, x1 = p["xr"]
    y0, y1 = p["yr"]
    fx = lambda v: (v - x0) / (x1 - x0)
    fy = lambda v: (v - y0) / (y1 - y0)
    shapes.append(dict(type="line", xref=xa + " domain", yref="paper",
                       x0=fx(p["xt"][0]), x1=fx(p["xt"][-1]),
                       y0=px_y(p["sy"]), y1=px_y(p["sy"]),
                       line=dict(color=TEXT, width=1.4)))
    shapes.append(dict(type="line", xref="paper", yref=ya + " domain",
                       x0=px_x(p["sx"]), x1=px_x(p["sx"]),
                       y0=fy(p["yt"][0]), y1=fy(p["yt"][-1]),
                       line=dict(color=TEXT, width=1.4)))

    left_col = L < 300
    annotations.append(dict(text="MAE", xref="paper", yref="paper",
                            x=px_x(20 if left_col else 534), y=px_y((T + B) / 2),
                            textangle=-90, showarrow=False, xanchor="center", yanchor="middle",
                            font=dict(family=FONT, size=20.3, color=TEXT)))
    annotations.append(dict(text="# Instances", xref="paper", yref="paper",
                            x=px_x(291 if left_col else 802), y=px_y(p["sy"] + 41),
                            showarrow=False, xanchor="center", yanchor="middle",
                            font=dict(family=FONT, size=20.6, color=TEXT)))
    annotations.append(dict(text=tag + NBSP + " " + dname, xref="paper", yref="paper",
                            x=px_x(253 if left_col else 766), y=px_y(p["capy"]),
                            showarrow=False, xanchor="center", yanchor="middle",
                            font=dict(family=FONT, size=24, color=TEXT)))

    lx, ly = p["leg"]
    layout[leg] = dict(
        x=px_x(lx), y=px_y(ly), xanchor="left", yanchor="top",
        bgcolor="rgba(255,255,255,0.8)", bordercolor="#d6d6d6", borderwidth=1,
        font=dict(family=FONT, size=20.5, color=TEXT), tracegroupgap=0, itemwidth=43,
    )

layout["shapes"] = shapes
layout["annotations"] = annotations
fig.update_layout(**layout)
fig.write_html("out.html")
